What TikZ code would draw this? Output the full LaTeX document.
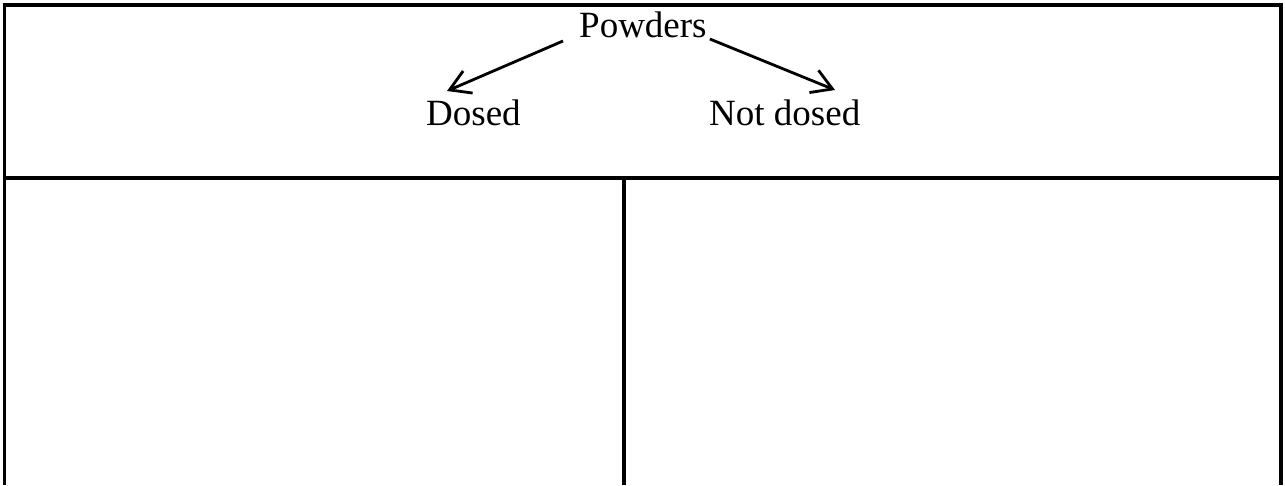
\documentclass[tikz,border=0pt]{standalone}
\usepackage{fontspec}
\setmainfont{Liberation Serif}
\usetikzlibrary{arrows.meta,calc}
\begin{document}
\begin{tikzpicture}[x=1pt,y=-1pt,
  frame/.style={line width=3.2pt},
  label/.style={inner sep=0pt,anchor=base west,font=\fontsize{37}{40}\selectfont},
  branch/.style={line width=2.8pt,-{Straight Barb[length=20pt,width=24pt,line width=2.8pt]}}]
  \useasboundingbox (0,0) rectangle (1285,485);
  % table frame, open at the bottom
  \draw[frame] (4.5,485) -- (4.5,5) -- (1281,5) -- (1281,485);
  \draw[frame] (4.5,178) -- (1281,178);
  \draw[frame] (624,178) -- (624,485);
  % heading with its two branches
  \node[label] (powders) at (579,37) {Powders};
  \node[label] (dosed) at (426,125) {Dosed};
  \node[label] (notdosed) at (709,125) {Not dosed};
  \draw[branch] ($(powders.base west)+(-16,4)$) -- ($(dosed.base west)+(21,-34)$);
  \draw[branch] ($(powders.base east)+(3,2)$) -- ($(notdosed.base west)+(126,-35)$);
\end{tikzpicture}
\end{document}
